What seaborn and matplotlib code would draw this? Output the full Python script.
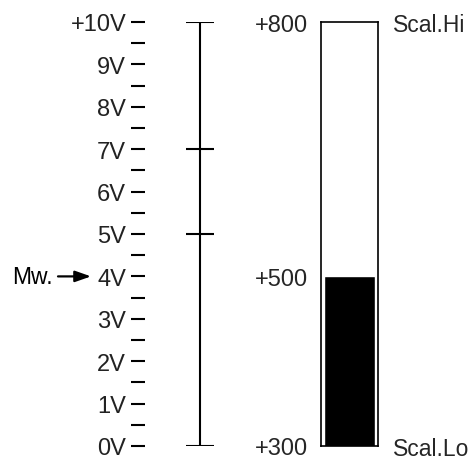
import matplotlib
matplotlib.use("Agg")
import matplotlib.pyplot as plt
import seaborn as sns

# voltage scale
volts = [0, 1, 2, 3, 4, 5, 6, 7, 8, 9, 10]
volt_labels = ["0V", "1V", "2V", "3V", "4V", "5V", "6V", "7V", "8V", "9V", "+10V"]
half_volts = [0.5, 1.5, 2.5, 3.5, 4.5, 5.5, 6.5, 7.5, 8.5, 9.5]
marked_volts = [0, 5, 7, 10]

# scaled value bar
scale_ticks = [300, 500, 800]
scale_labels = ["+300", "+500", "+800"]
scale_ends = [300, 800]
scale_end_labels = ["Scal.Lo", "Scal.Hi"]
measured = [500]
measured_volt = 4

sns.set_theme(style="white")
plt.rcParams["font.family"] = ["Liberation Sans", "DejaVu Sans"]
plt.rcParams["text.color"] = "black"

W, H = 471, 460
fig = plt.figure(figsize=(W / 100, H / 100), dpi=100)
bottom, height = 13, 424

# main axis: x in pixel units, y in volts
ax = fig.add_axes([145 / W, bottom / H, (W - 145) / W, height / H])
ax.set_xlim(145, W)
ax.set_ylim(0, 10)
ax.patch.set_alpha(0)
for s in ax.spines.values():
    s.set_visible(False)
ax.set_xticks([])
ax.set_yticks(volts)
ax.set_yticklabels(volt_labels)
ax.set_yticks(half_volts, minor=True)
ax.tick_params(axis="y", which="both", direction="out", length=10, width=1.5,
               color="black", left=True)
ax.tick_params(axis="y", which="major", pad=3.5, labelsize=17, labelcolor="#222222")

ax.vlines(200, volts[0], volts[-1], color="black", lw=1.5)
ax.hlines(marked_volts, 186, 214, color="black", lw=1.5)

ax.text(53, measured_volt, "Mw.", ha="right", va="center", fontsize=16.5)
ax.annotate("", xy=(91, measured_volt), xytext=(58, measured_volt),
            annotation_clip=False,
            arrowprops=dict(arrowstyle="-|>,head_length=0.8,head_width=0.28",
                            color="black", lw=1.6, shrinkA=0, shrinkB=0))

# bar axis
bx = fig.add_axes([321 / W, bottom / H, 57 / W, height / H])
sns.barplot(x=["Mw"], y=measured, color="black", width=0.9, saturation=1, ax=bx)
bx.set_xlim(-0.5, 0.5)
bx.set_ylim(scale_ends[0], scale_ends[1])
bx.set_xlabel("")
bx.set_ylabel("")
bx.set_xticks([])
bx.set_yticks(scale_ticks)
bx.set_yticklabels(scale_labels)
bx.tick_params(axis="y", length=0, pad=9.5, labelsize=17, left=True)
for s in bx.spines.values():
    s.set_visible(True)
    s.set_color("black")
    s.set_linewidth(1.2)

rx = bx.twinx()
rx.set_ylim(scale_ends[0], scale_ends[1])
rx.set_yticks(scale_ends)
rx.set_yticklabels(scale_end_labels)
rx.tick_params(axis="y", length=0, pad=11, labelsize=16.5)
for s in rx.spines.values():
    s.set_visible(False)

fig.savefig("out.png", dpi=100)
